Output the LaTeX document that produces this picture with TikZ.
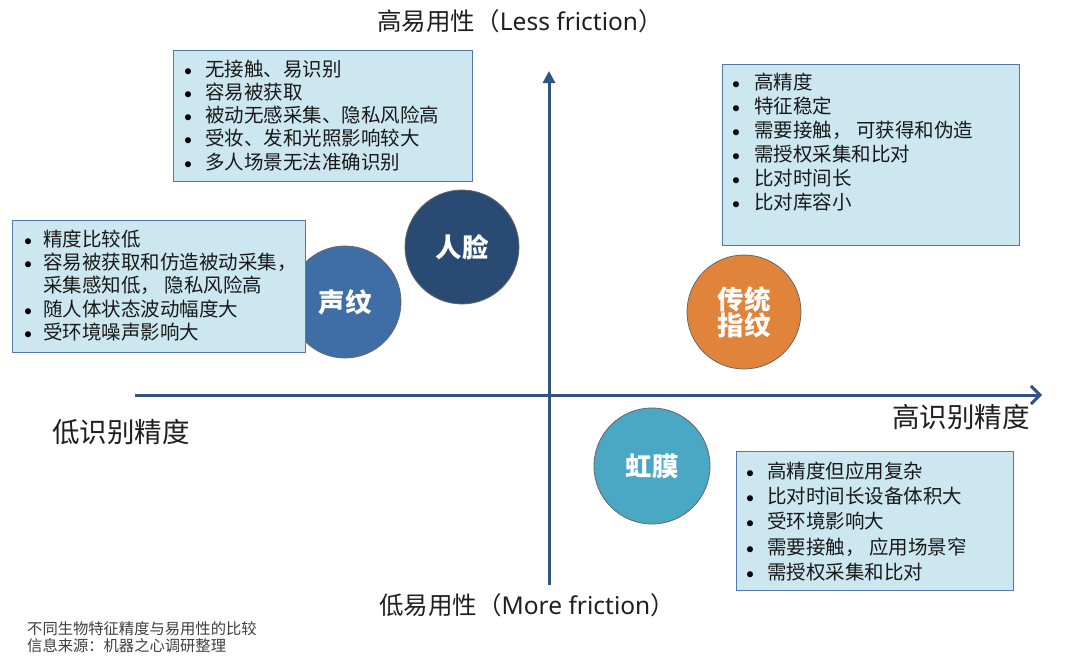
\documentclass[tikz,border=0pt]{standalone}
\usepackage{fontspec}
\usetikzlibrary{arrows.meta}
\newfontfamily\cjk{Noto Sans CJK SC}
\newfontfamily\lat{Noto Sans}
\newfontfamily\bulfont{Carlito}
\definecolor{boxfill}{HTML}{CCE7EF}
\definecolor{boxline}{HTML}{5478A8}
\definecolor{axiscol}{HTML}{2F5383}
\definecolor{cface}{HTML}{294A73}
\definecolor{cvoice}{HTML}{3F6EA6}
\definecolor{cfinger}{HTML}{E0843C}
\definecolor{ciris}{HTML}{4AA8C4}
\definecolor{foot}{HTML}{404040}
\tikzset{
  infobox/.style={draw=boxline, line width=1.3pt, fill=boxfill, anchor=north west, inner sep=0pt},
  itm/.style={anchor=base west, inner sep=0pt, font=\cjk\fontsize{19.5}{23}\selectfont, text=black!90},
  bul/.style={anchor=base, inner sep=0pt, font=\bulfont\fontsize{17}{17}\selectfont, text=black},
  bio/.style={circle, draw=black!60, line width=0.8pt, inner sep=0pt, text=white, font=\cjk\bfseries\fontsize{26.5}{30}\selectfont, align=center},
  axis/.style={draw=axiscol, line width=3pt},
  axlab/.style={inner sep=0pt, text=black!88},
}
\begin{document}
\begin{tikzpicture}[x=1pt,y=-1pt]
\useasboundingbox (0,0) rectangle (1080,667);
\fill[white] (0,0) rectangle (1080,667);

% axes
\coordinate (vb) at (549,585);
\coordinate (vt) at (549,71);
\coordinate (hl) at (135,395);
\coordinate (hr) at (1042,395);
\draw[axis, -{Triangle[length=12pt,width=12pt]}] (vb) -- (vt);
\draw[axis, -{Straight Barb[length=9pt,width=18pt,line width=3pt]}] (hl) -- (hr);

% circles
\node[bio, fill=cvoice, minimum size=112pt] (voice) at (345,302) {声纹};
\node[bio, fill=cface, minimum size=114pt] (face) at (462,247) {人脸};
\node[bio, fill=cfinger, minimum size=114pt] (finger) at (744,312) {传统\\[-4pt]指纹};
\node[bio, fill=ciris, minimum size=116pt] (iris) at (652,466) {虹膜};

% box 1
\node[infobox, minimum width=299pt, minimum height=131pt] (b1) at (173,50) {};
\foreach \t [count=\i] in {无接触、易识别, 容易被获取, 被动无感采集、隐私风险高, 受妆、发和光照影响较大, 多人场景无法准确识别}{
  \pgfmathsetmacro{\yy}{76+(\i-1)*23.3}
  \node[bul] (b1b\i) at (188,\yy) {•};
  \node[itm] (b1t\i) at (205,\yy) {\t};
}

% box 2
\node[infobox, minimum width=293pt, minimum height=132pt] (b2) at (12,220) {};
\node[bul] (b2b1) at (28,246) {•};
\node[itm] (b2t1) at (43,246) {精度比较低};
\node[bul] (b2b2) at (28,269) {•};
\node[itm] (b2t2) at (43,269) {容易被获取和仿造被动采集，};
\node[itm] (b2t3) at (43,292.5) {采集感知低， 隐私风险高};
\node[bul] (b2b4) at (28,316) {•};
\node[itm] (b2t4) at (43,316) {随人体状态波动幅度大};
\node[bul] (b2b5) at (28,339) {•};
\node[itm] (b2t5) at (43,339) {受环境噪声影响大};

% box 3
\node[infobox, minimum width=297pt, minimum height=181pt] (b3) at (722,64) {};
\foreach \t [count=\i] in {高精度, 特征稳定, 需要接触， 可获得和伪造, 需授权采集和比对, 比对时间长, 比对库容小}{
  \pgfmathsetmacro{\yy}{89.5+(\i-1)*23.9}
  \node[bul] (b3b\i) at (736,\yy) {•};
  \node[itm] (b3t\i) at (754,\yy) {\t};
}

% box 4
\node[infobox, minimum width=277pt, minimum height=139pt] (b4) at (736,451) {};
\foreach \t [count=\i] in {高精度但应用复杂, 比对时间长设备体积大, 受环境影响大, 需要接触， 应用场景窄, 需授权采集和比对}{
  \pgfmathsetmacro{\yy}{478.5+(\i-1)*25.2}
  \node[bul] (b4b\i) at (750,\yy) {•};
  \node[itm] (b4t\i) at (767,\yy) {\t};
}

% axis labels
\node[axlab, font=\fontsize{24.5}{28}\selectfont] (top) at (520,21) {{\cjk 高易用性（}{\lat Less friction}{\cjk ）}};
\node[axlab, font=\fontsize{24.5}{28}\selectfont] (bot) at (527,605) {{\cjk 低易用性（}{\lat More friction}{\cjk ）}};
\node[axlab, font=\cjk\fontsize{27.5}{30}\selectfont] (lowacc) at (121,432) {低识别精度};
\node[axlab, font=\cjk\fontsize{27.5}{30}\selectfont] (highacc) at (961,417) {高识别精度};

% footer
\node[anchor=base west, inner sep=0pt, text=foot, font=\cjk\fontsize{15.3}{17}\selectfont] (f1) at (27,634) {不同生物特征精度与易用性的比较};
\node[anchor=base west, inner sep=0pt, text=foot, font=\cjk\fontsize{15.3}{17}\selectfont] (f2) at (27,651) {信息来源：机器之心调研整理};
\end{tikzpicture}
\end{document}
